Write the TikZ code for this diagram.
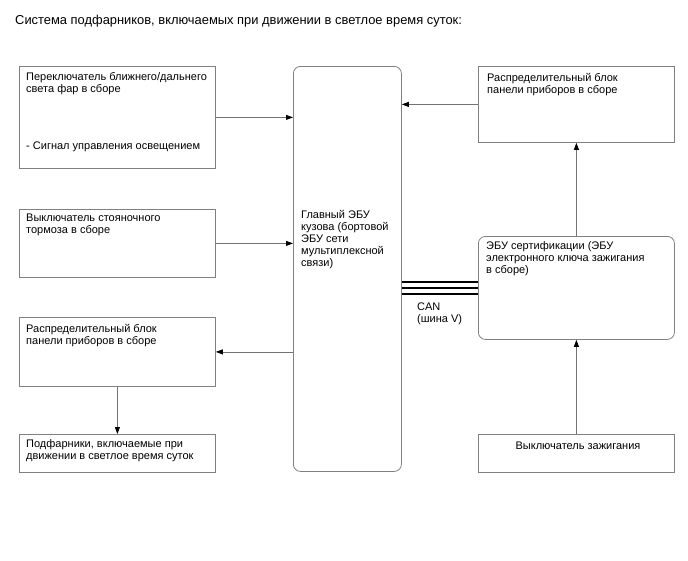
\documentclass[tikz,border=0pt]{standalone}
\usepackage{fontspec}
\setmainfont{Liberation Sans}
\usetikzlibrary{arrows.meta}
\begin{document}
\begin{tikzpicture}[x=1pt,y=-1pt,
  box/.style={draw=black!50,line width=0.8pt,anchor=north west,inner sep=0pt},
  rbox/.style={box,rounded corners=7pt},
  txt/.style={anchor=north west,inner sep=0pt,align=left,font=\fontsize{11}{12}\selectfont},
  conn/.style={draw=black!55,line width=0.8pt,-{Triangle[length=7pt,width=5pt,color=black]}},
  canline/.style={draw=black}]
\useasboundingbox (0,0) rectangle (688,560);
\node[anchor=north west,inner sep=0pt,font=\fontsize{12.9}{14}\selectfont] (title) at (15,15) {Система подфарников, включаемых при движении в светлое время суток:};
% left boxes
\node[box,minimum width=196pt,minimum height=102pt] (b1) at (19,66) {};
\node[box,minimum width=196pt,minimum height=68pt] (b2) at (19,209) {};
\node[box,minimum width=196pt,minimum height=69pt] (b3) at (19,317) {};
\node[box,minimum width=196pt,minimum height=38pt] (b4) at (19,434) {};
% main
\node[rbox,minimum width=108pt,minimum height=405pt] (main) at (293,66) {};
% right boxes
\node[box,minimum width=196pt,minimum height=76pt] (r1) at (478,66) {};
\node[rbox,minimum width=196pt,minimum height=103pt] (r2) at (478,236) {};
\node[box,minimum width=196pt,minimum height=38pt] (r3) at (478,434) {};
% texts
\node[txt] (t1) at (26,72) {Переключатель ближнего/дальнего\\света фар в сборе};
\node[txt] (t1b) at (26,142) {- Сигнал управления освещением};
\node[txt] (t2) at (26,214) {Выключатель стояночного\\тормоза в сборе};
\node[txt] (t3) at (26,324) {Распределительный блок\\панели приборов в сборе};
\node[txt] (t4) at (26,439) {Подфарники, включаемые при\\движении в светлое время суток};
\node[txt] (tm) at (301,210) {Главный ЭБУ\\кузова (бортовой\\ЭБУ сети\\мультиплексной\\связи)};
\node[txt] (tr1) at (487,73) {Распределительный блок\\панели приборов в сборе};
\node[txt] (tr2) at (486,241) {ЭБУ сертификации (ЭБУ\\электронного ключа зажигания\\в сборе)};
\node[txt,anchor=center] (tr3) at (578,446) {Выключатель зажигания};
\node[txt] (tcan) at (417,303) {CAN\\(шина V)};
% connectors
\draw[conn] (b1.east) -- (b1.east -| main.west);
\draw[conn] (b2.east) -- (b2.east -| main.west);
\draw[conn] (b3.east -| main.west) -- (b3.east);
\draw[conn] (b3.south) -- (b4.north);
\draw[conn] (r1.west) -- (r1.west -| main.east);
\draw[conn] (r2.north) -- (r1.south);
\draw[conn] (r3.north) -- (r2.south);
\draw[canline,line width=2.2pt] ([yshift=6pt]r2.west -| main.east) -- ([yshift=6pt]r2.west);
\draw[canline,line width=1.2pt] (r2.west -| main.east) -- (r2.west);
\draw[canline,line width=2.2pt] ([yshift=-6pt]r2.west -| main.east) -- ([yshift=-6pt]r2.west);
\end{tikzpicture}
\end{document}
